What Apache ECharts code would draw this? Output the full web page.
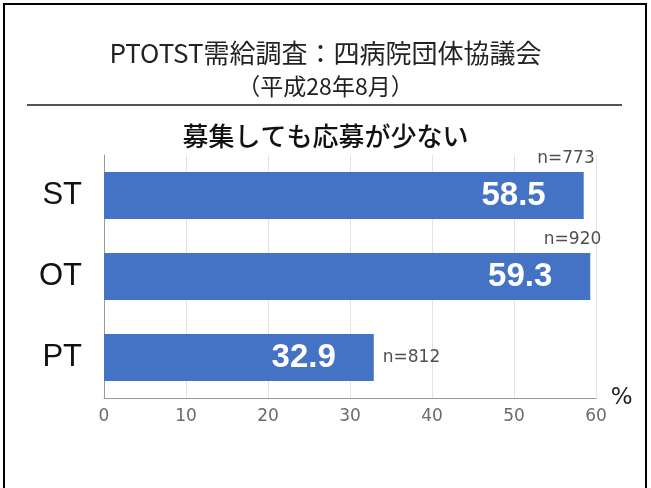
<!DOCTYPE html>
<html>
<head>
<meta charset="utf-8">
<script src="https://cdn.jsdelivr.net/npm/echarts@6/dist/echarts.min.js"></script>
<style>
  html, body { margin: 0; padding: 0; background: #fff; }
  #chart { width: 651px; height: 488px; }
</style>
</head>
<body>
<div id="chart"></div>
<script>
// data (bottom to top on the axis)
const categories = ["PT", "OT", "ST"];
const rates = [32.9, 59.3, 58.5];
const counts = [812, 920, 773];
const xTicks = [0, 10, 20, 30, 40, 50, 60];

const chart = echarts.init(document.getElementById("chart"));

// n= labels: PT sits right of its bar, the others above the bar end
const nData = categories.map((c, i) => {
  const item = { value: [rates[i], c], n: counts[i] };
  if (c === "PT") {
    item.label = { position: "right", align: "left", offset: [4, 0] };
  } else {
    item.label = { position: "inside", align: "right", offset: [11, -37] };
  }
  return item;
});

const option = {
  animation: false,
  title: [
    {
      text: "PTOTST需給調査：四病院団体協議会",
      left: "center",
      top: 35,
      textStyle: { fontFamily: "Noto Sans CJK JP", fontSize: 26, fontWeight: "normal", color: "#222" },
    },
    {
      text: "（平成28年8月）",
      left: "center",
      top: 70,
      textStyle: { fontFamily: "Noto Sans CJK JP", fontSize: 23, fontWeight: "normal", color: "#222" },
    },
    {
      text: "募集しても応募が少ない",
      left: "center",
      top: 118,
      textStyle: { fontFamily: "Noto Sans CJK JP", fontSize: 26, fontWeight: 500, color: "#111" },
    },
  ],
  graphic: [
    {
      type: "rect",
      shape: { x: 4, y: 4, width: 642, height: 500 },
      style: { fill: "none", stroke: "#000", lineWidth: 2 },
    },
    {
      type: "line",
      shape: { x1: 27, y1: 105, x2: 622, y2: 105 },
      style: { stroke: "#555", lineWidth: 2 },
    },
  ],
  grid: { left: 104, right: 55, top: 155, bottom: 90 },
  xAxis: {
    type: "value",
    min: 0,
    max: 60,
    interval: 10,
    name: "%",
    nameLocation: "end",
    nameGap: 8,
    nameTextStyle: { fontFamily: "DejaVu Sans", fontSize: 23, color: "#222", padding: [0, 0, 12, 0] },
    axisLine: { show: true, lineStyle: { color: "#999", width: 1 } },
    axisTick: { show: false },
    axisLabel: {
      margin: 10,
      fontFamily: "DejaVu Sans",
      fontSize: 17,
      color: "#6a6a6a",
      formatter: (v) => (xTicks.includes(v) ? String(v) : ""),
    },
    splitLine: { show: true, lineStyle: { color: "#e3e3e3", width: 1 } },
  },
  yAxis: {
    type: "category",
    data: categories,
    axisLine: { show: true, lineStyle: { color: "#999", width: 1 } },
    axisTick: { show: false },
    axisLabel: { margin: 22, fontFamily: "Liberation Sans", fontSize: 31, color: "#111" },
    splitLine: { show: false },
  },
  series: [
    {
      name: "rate",
      type: "bar",
      data: rates,
      barWidth: "58%",
      itemStyle: { color: "#4472c4" },
      label: {
        show: true,
        position: "insideRight",
        distance: 38,
        fontFamily: "Liberation Sans",
        fontWeight: "bold",
        fontSize: 33,
        color: "#fff",
      },
    },
    {
      name: "n",
      type: "scatter",
      symbolSize: 0,
      silent: true,
      data: nData,
      label: {
        show: true,
        fontFamily: "DejaVu Sans",
        fontSize: 17,
        color: "#222",
        formatter: (p) => "n=" + p.data.n,
      },
    },
  ],
};

chart.setOption(option);
</script>
</body>
</html>
